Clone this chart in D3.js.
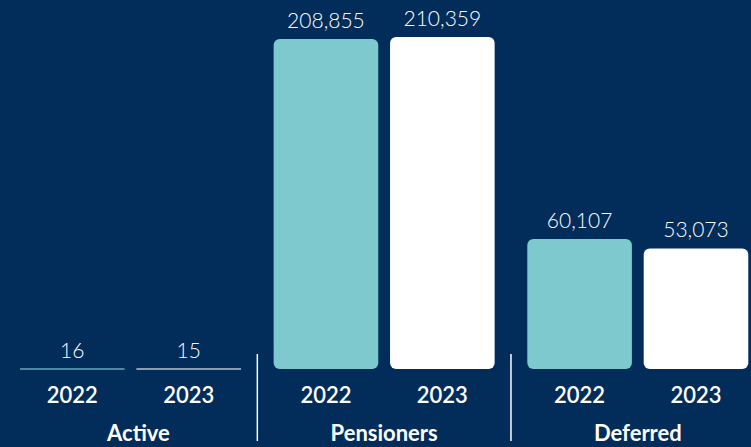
<!DOCTYPE html>
<html>
<head>
<meta charset="utf-8">
<script src="https://cdn.jsdelivr.net/npm/d3@7"></script>
<style>
  html, body { margin: 0; padding: 0; background: #022c59; }
  svg { display: block; }
  text { font-family: Lato, "Noto Sans", sans-serif; fill: #ffffff; }
</style>
</head>
<body>
<svg id="chart" width="751" height="447"></svg>
<script>
const categories = ["Active", "Pensioners", "Deferred"];
const years = ["2022", "2023"];
const values2022 = [16, 208855, 60107];
const values2023 = [15, 210359, 53073];

const W = 751, H = 447;
const baseY = 369;
const svg = d3.select("#chart");
svg.append("rect").attr("width", W).attr("height", H).attr("fill", "#022c59");

const x0 = d3.scaleBand().domain(categories).range([20, 748.3]).paddingInner(0.1287).paddingOuter(0);
const x1 = d3.scaleBand().domain(years).range([0, x0.bandwidth()]).paddingInner(0.1014);
const maxV = d3.max(values2022.concat(values2023));
const y = d3.scaleLinear().domain([0, maxV]).range([baseY - 49.2, 37]);

const colors = { "2022": "#7ec9cd", "2023": "#ffffff" };
const lineColors = { "2022": "#4a8aa0", "2023": "#8b9db3" };

const data = [];
categories.forEach((c, i) => {
  data.push({ cat: c, year: "2022", v: values2022[i] });
  data.push({ cat: c, year: "2023", v: values2023[i] });
});

const fmt = d3.format(",");

const g = svg.append("g");
data.forEach(d => {
  const bx = x0(d.cat) + x1(d.year);
  const bw = x1.bandwidth();
  const tiny = d.v / maxV < 0.01;
  let topY;
  if (tiny) {
    topY = baseY;
    g.append("line")
      .attr("x1", bx).attr("x2", bx + bw)
      .attr("y1", baseY).attr("y2", baseY)
      .attr("stroke", lineColors[d.year]).attr("stroke-width", 2);
  } else {
    topY = y(d.v);
    g.append("rect")
      .attr("x", bx).attr("y", topY)
      .attr("width", bw).attr("height", baseY - topY)
      .attr("rx", 6).attr("ry", 6)
      .attr("fill", colors[d.year]);
  }
  g.append("text")
    .attr("x", bx + bw / 2).attr("y", topY - 11)
    .attr("text-anchor", "middle")
    .style("font-size", "21px").style("font-weight", 300)
    .text(fmt(d.v));
  g.append("text")
    .attr("x", bx + bw / 2).attr("y", 403)
    .attr("text-anchor", "middle")
    .style("font-size", "22px").style("font-weight", 600)
    .text(d.year);
});

categories.forEach((c, i) => {
  g.append("text")
    .attr("x", x0(c) + x0.bandwidth() / 2 + (i === 0 ? 8 : 0)).attr("y", 441)
    .attr("text-anchor", "middle")
    .style("font-size", "22px").style("font-weight", 700)
    .text(c);
  if (i > 0) {
    const sx = x0(c) - (x0.step() - x0.bandwidth()) / 2;
    g.append("line")
      .attr("x1", sx).attr("x2", sx)
      .attr("y1", 354).attr("y2", 441)
      .attr("stroke", "#ffffff").attr("stroke-width", 1.5);
  }
});
</script>
</body>
</html>
